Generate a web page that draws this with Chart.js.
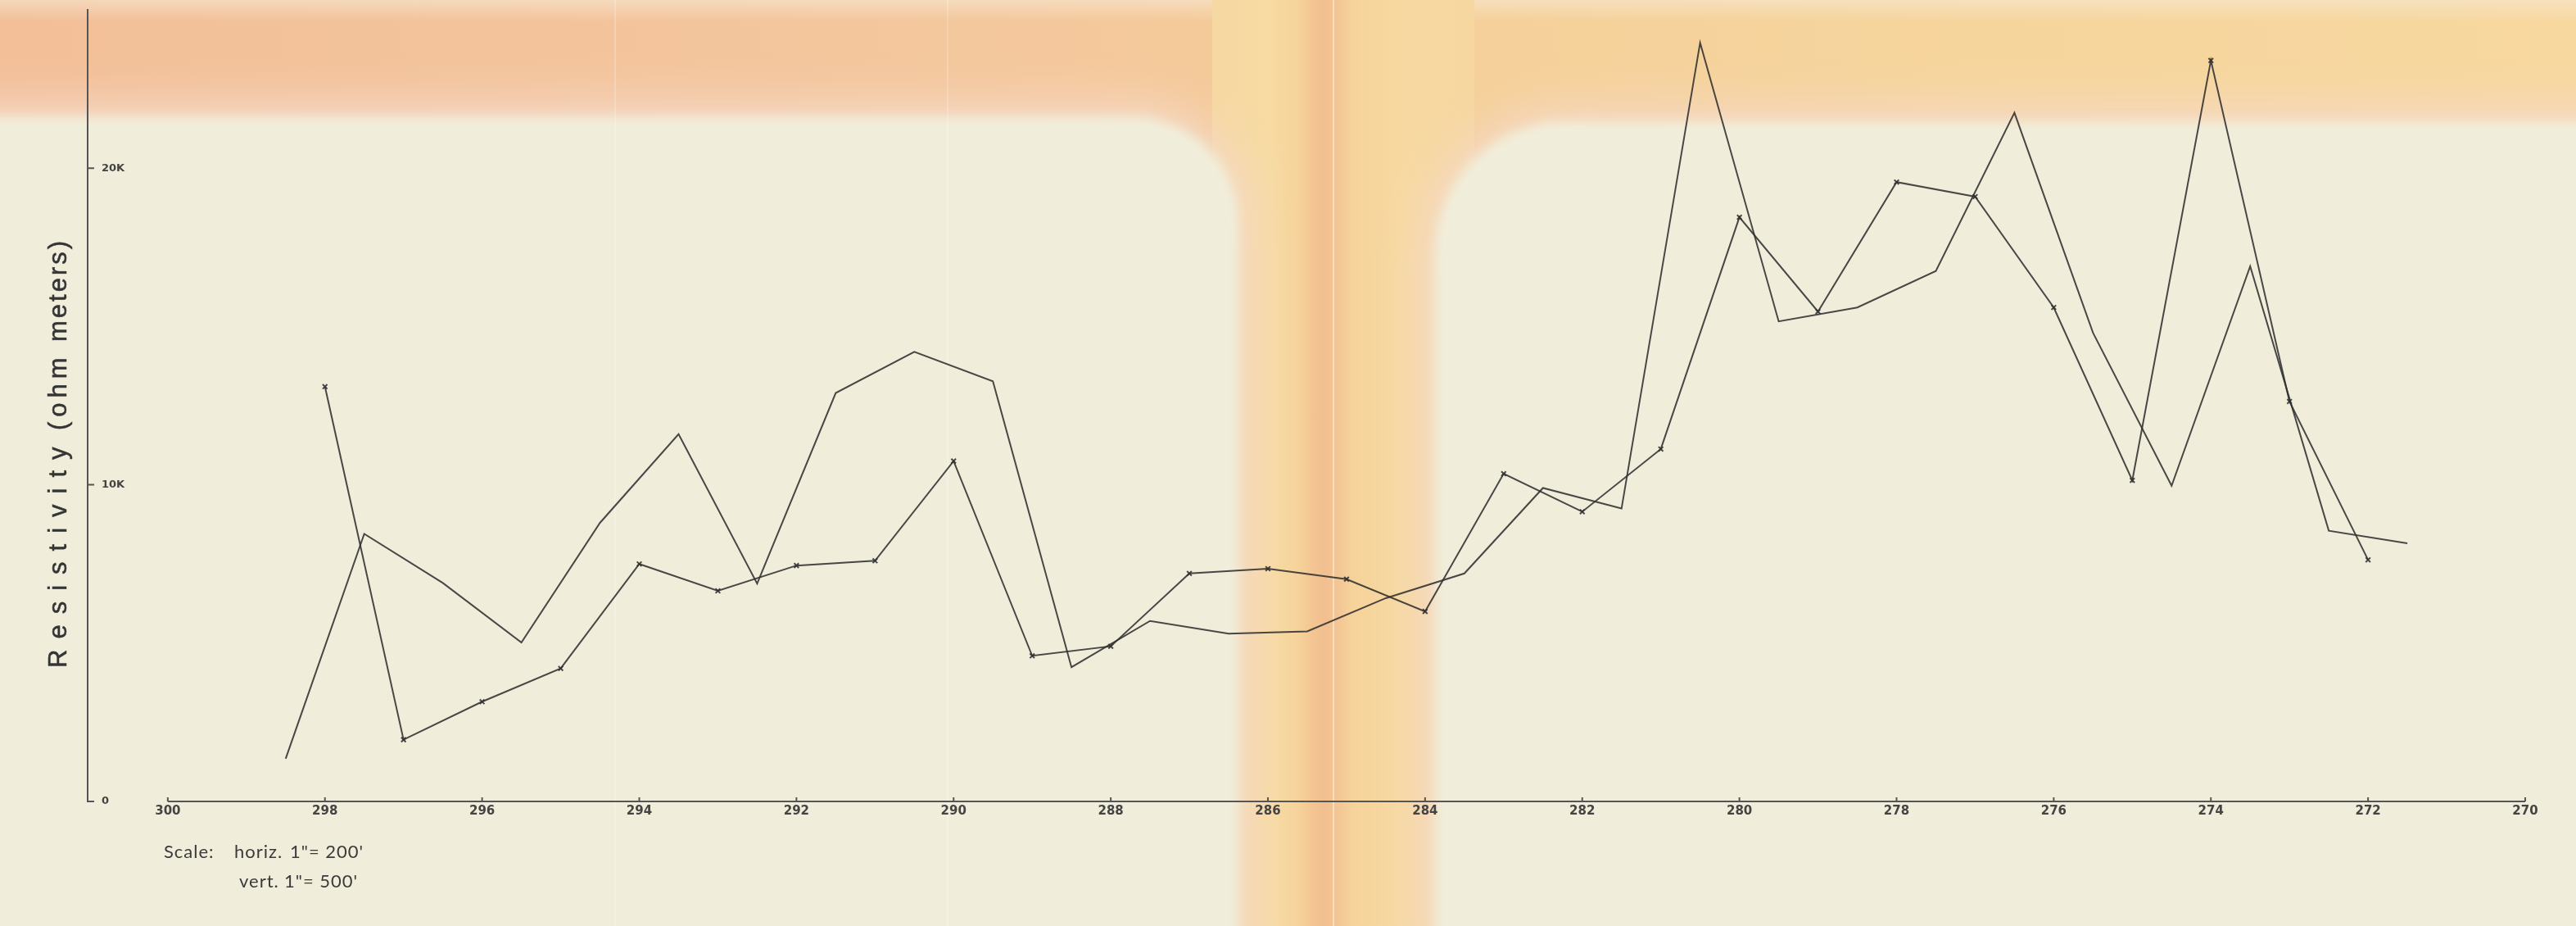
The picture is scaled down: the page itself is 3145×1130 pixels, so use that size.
<!DOCTYPE html>
<html>
<head>
<meta charset="utf-8">
<title>Resistivity profile</title>
<script src="https://cdn.jsdelivr.net/npm/chart.js@4.4.1/dist/chart.umd.min.js"></script>
<style>
  html, body { margin: 0; padding: 0; }
  body { width: 3145px; height: 1130px; overflow: hidden; }
  #sheet { position: relative; width: 3145px; height: 1130px; overflow: hidden; background: #f6d49d; }
  #sheet .tint { position: absolute; }
  #topband { left: 0; top: 0; width: 3145px; height: 260px;
    background: linear-gradient(to right, #f2bf98 0px, #f3c49c 700px, #f4c89c 1300px, #f4cb99 1560px, #f5d09a 1800px, #f6d59d 2400px, #f7d89f 3145px); }
  #topglow { left: 0; top: 0; width: 3145px; height: 26px;
    background: linear-gradient(to bottom, rgba(247,232,210,0.6), rgba(247,232,210,0)); }
  #stem { left: 1480px; top: 0; width: 320px; height: 1130px;
    background: linear-gradient(to right, #f6d8a2 0px, #f7dba2 70px, #f6d39a 105px, #f3c592 122px, #f2bf90 138px, #f4c694 153px, #f6d39b 172px, #f7d9a0 230px, #f6d7a0 320px); }
  .panel { position: absolute; background: #f0eedb; box-shadow: 0 0 54px 16px #f5d9c7; filter: blur(7px); }
  #panelL { left: -300px; top: 142px; width: 1812px; height: 1300px; border-radius: 0 130px 0 0; }
  #panelR { left: 1752px; top: 148px; width: 1700px; height: 1300px; border-radius: 160px 0 0 0; }
  .crease { position: absolute; top: 0; width: 2px; height: 1130px; }
  #fold { left: 1627px; background: rgba(255, 247, 234, 0.5); }
  #crease1 { left: 750px; background: rgba(255, 255, 250, 0.22); }
  #crease2 { left: 1156px; background: rgba(255, 255, 250, 0.22); }
  #c { position: absolute; left: 0; top: 0; }
  #ytitle { position: absolute; left: 0; top: 0; transform: translate(55px, 815px) rotate(-90deg); transform-origin: 0 0;
    font: 31px/31px "Liberation Sans", Arial, sans-serif; color: #343434; -webkit-text-stroke: 0.5px #343434; }
  #ytitle span { position: absolute; top: 0; white-space: nowrap; }
  .note { position: absolute; font: 22px/30px Lato, sans-serif; color: #3a3a3a; letter-spacing: 1px; white-space: nowrap; }
</style>
</head>
<body>
<div id="sheet">
  <div class="tint" id="topband"></div>
  <div class="tint" id="topglow"></div>
  <div class="tint" id="stem"></div>
  <div class="panel" id="panelL"></div>
  <div class="panel" id="panelR"></div>
  <div class="crease" id="crease1"></div>
  <div class="crease" id="crease2"></div>
  <div class="crease" id="fold"></div>
  <canvas id="c" width="3145" height="1130"></canvas>
  <div id="ytitle"><span style="left:0;letter-spacing:13px">Resistivity</span><span style="left:290px;letter-spacing:6px">(ohm</span><span style="left:398px;letter-spacing:3px">meters)</span></div>
  <div class="note" style="left:200px;top:1024px">Scale:</div>
  <div class="note" style="left:286px;top:1024px">horiz.</div>
  <div class="note" style="left:354px;top:1024px">1"= 200'</div>
  <div class="note" style="left:292px;top:1060px">vert.</div>
  <div class="note" style="left:347px;top:1060px">1"= 500'</div>
</div>
<script>
// Station numbers along the traverse (axis runs from 300 down to 270)
const xTicks = [300, 298, 296, 294, 292, 290, 288, 286, 284, 282, 280, 278, 276, 274, 272, 270];
const xRangeMin = 270;
const xRangeMax = 301.02;

// Resistivity axis (ohm meters)
const yTicks = [0, 10000, 20000];
const yTickLabels = ['0', '10K', '20K'];
const yRangeMax = 25000;

// Profile plotted with x marks, one reading per whole station
const stationsA = [298, 297, 296, 295, 294, 293, 292, 291, 290, 289, 288, 287, 286, 285,
                   284, 283, 282, 281, 280, 279, 278, 277, 276, 275, 274, 273, 272];
const resistivityA = [13100, 1950, 3150, 4200, 7500, 6650, 7450, 7600, 10750, 4600, 4900, 7200, 7350, 7020,
                      6000, 10350, 9150, 11130, 18450, 15470, 19560, 19100, 15600, 10140, 23400, 12630, 7630];

// Second profile, readings at the half stations
const stationsB = [298.5, 297.5, 296.5, 295.5, 294.5, 293.5, 292.5, 291.5, 290.5, 289.5, 288.5, 287.5, 286.5, 285.5,
                   284.5, 283.5, 282.5, 281.5, 280.5, 279.5, 278.5, 277.5, 276.5, 275.5, 274.5, 273.5, 272.5, 271.5];
const resistivityB = [1350, 8450, 6900, 5020, 8800, 11600, 6880, 12900, 14200, 13270, 4240, 5700, 5300, 5370,
                      6420, 7200, 9900, 9250, 23960, 15160, 15600, 16750, 21750, 14800, 9970, 16900, 8550, 8150];

const INK = 'rgba(48, 48, 48, 0.88)';
const AXIS_INK = '#555555';
const LABEL_INK = '#444444';

// Draws the baseline from the first to the last station tick, with short
// upward tick marks, and the short inward ticks on the resistivity axis.
const axisDecor = {
  id: 'axisDecor',
  beforeDatasetsDraw(chart) {
    const { ctx, scales: { x, y } } = chart;
    const y0 = y.getPixelForValue(0);
    ctx.save();
    ctx.strokeStyle = AXIS_INK;
    ctx.lineWidth = 2;
    ctx.beginPath();
    ctx.moveTo(x.getPixelForValue(xTicks[0]), y0);
    ctx.lineTo(x.getPixelForValue(xTicks[xTicks.length - 1]), y0);
    xTicks.forEach(v => {
      const px = x.getPixelForValue(v);
      ctx.moveTo(px, y0);
      ctx.lineTo(px, y0 - 5);
    });
    const ax = chart.chartArea.left;
    yTicks.forEach(v => {
      const py = y.getPixelForValue(v);
      ctx.moveTo(ax, py);
      ctx.lineTo(ax + 8, py);
    });
    ctx.stroke();
    ctx.restore();
  }
};

const pointsA = stationsA.map((s, i) => ({ x: s, y: resistivityA[i] }));
const pointsB = stationsB.map((s, i) => ({ x: s, y: resistivityB[i] }));

new Chart(document.getElementById('c'), {
  type: 'line',
  data: {
    datasets: [
      {
        label: 'Profile A',
        data: pointsA,
        borderColor: INK,
        borderWidth: 2,
        tension: 0,
        fill: false,
        pointStyle: 'crossRot',
        pointRadius: 4,
        pointBorderWidth: 2,
        pointBorderColor: INK,
        pointBackgroundColor: INK
      },
      {
        label: 'Profile B',
        data: pointsB,
        borderColor: INK,
        borderWidth: 2,
        tension: 0,
        fill: false,
        pointRadius: 0
      }
    ]
  },
  options: {
    responsive: false,
    animation: false,
    devicePixelRatio: 1,
    layout: { padding: { left: 73, right: 62, top: 12, bottom: 128 } },
    plugins: { legend: { display: false }, tooltip: { enabled: false } },
    scales: {
      x: {
        type: 'linear',
        reverse: true,
        min: xRangeMin,
        max: xRangeMax,
        afterBuildTicks: scale => { scale.ticks = xTicks.map(v => ({ value: v })); },
        grid: { display: true, drawOnChartArea: false, drawTicks: false, color: 'rgba(0,0,0,0)' },
        border: { display: false },
        ticks: {
          autoSkip: false,
          maxRotation: 0,
          padding: 3,
          color: LABEL_INK,
          font: { family: 'DejaVu Sans', weight: 'bold', size: 15 },
          callback: v => String(v)
        }
      },
      y: {
        type: 'linear',
        min: 0,
        max: yRangeMax,
        afterBuildTicks: scale => { scale.ticks = yTicks.map(v => ({ value: v })); },
        // labels sit inside the plot, so they need no extra room above or below the axis
        afterFit: scale => { scale.paddingTop = 0; scale.paddingBottom = 0; },
        grid: { display: true, drawOnChartArea: false, drawTicks: false, color: 'rgba(0,0,0,0)' },
        border: { display: true, color: AXIS_INK, width: 2 },
        ticks: {
          mirror: true,
          padding: 17,
          color: LABEL_INK,
          font: { family: 'DejaVu Sans', weight: 'bold', size: 13 },
          callback: (v, i) => yTickLabels[i]
        }
      }
    }
  },
  plugins: [axisDecor]
});
</script>
</body>
</html>
